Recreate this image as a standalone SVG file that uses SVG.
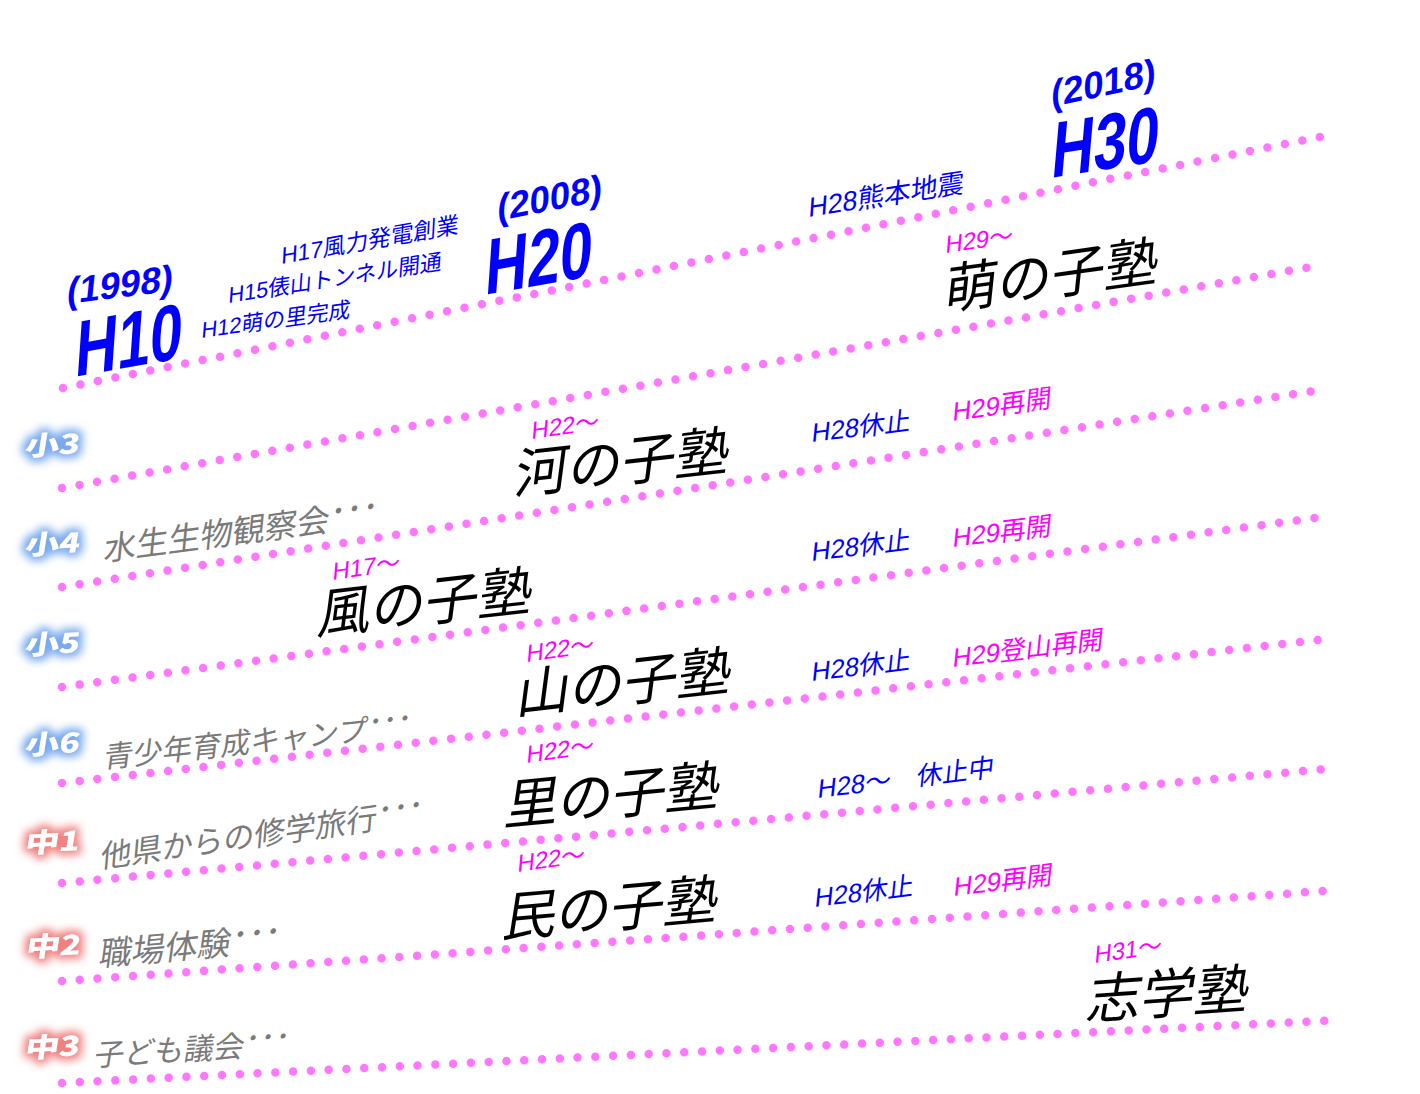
<svg xmlns="http://www.w3.org/2000/svg" width="1420" height="1094" viewBox="0 0 1420 1094">
<defs>
<style>
.dl{fill:none;stroke:#ff77ff;stroke-width:8.5;stroke-linecap:round;stroke-dasharray:0 17.8}
.t{font-family:"Liberation Sans","Noto Sans CJK JP",sans-serif}
.big{font-weight:bold;fill:#0000ff;font-size:78px}
.yr{font-weight:bold;fill:#0000ff;font-size:37px}
.bl{fill:#0000ff}
.mg{fill:#ff00ff}
.gr{fill:#7a7a7a;font-family:"Noto Sans CJK JP",sans-serif}
.jk{fill:#000000;font-family:"Noto Sans CJK JP",sans-serif;font-size:54px}
.gd{fill:#ffffff;font-family:"Noto Sans CJK JP",sans-serif;font-weight:900;font-size:28px}
</style>
<filter id="glowB" x="-60%" y="-100%" width="220%" height="300%">
<feMorphology in="SourceAlpha" operator="dilate" radius="4" result="d"/>
<feGaussianBlur in="d" stdDeviation="4.5" result="b"/>
<feFlood flood-color="#7aaaee"/>
<feComposite in2="b" operator="in" result="g"/>
<feMerge><feMergeNode in="g"/><feMergeNode in="SourceGraphic"/></feMerge>
</filter>
<filter id="glowR" x="-60%" y="-100%" width="220%" height="300%">
<feMorphology in="SourceAlpha" operator="dilate" radius="4" result="d"/>
<feGaussianBlur in="d" stdDeviation="4.5" result="b"/>
<feFlood flood-color="#f08080"/>
<feComposite in2="b" operator="in" result="g"/>
<feMerge><feMergeNode in="g"/><feMergeNode in="SourceGraphic"/></feMerge>
</filter>
</defs>
<rect width="1420" height="1094" fill="#ffffff"/>

<g id="lines">
<path class="dl" d="M63,388 L1320,137"/>
<path class="dl" d="M62,488 L1322,265"/>
<path class="dl" d="M62,587 L1327,389"/>
<path class="dl" d="M62,687 L1330,516"/>
<path class="dl" d="M62,783 L1318,640"/>
<path class="dl" d="M62,883 L1337,768"/>
<path class="dl" d="M62,981 L1338,890"/>
<path class="dl" d="M62,1083 L1340,1020"/>
</g>

<g id="era-h10">
<text class="t yr" transform="translate(66,304) rotate(-7) skewX(-13)">(1998)</text>
<text class="t big" transform="translate(74,377) rotate(-10) skewX(-14) scale(0.76,1)">H10</text>
</g>
<g id="era-h20">
<text class="t yr" transform="translate(497,221) rotate(-11) skewX(-13)">(2008)</text>
<text class="t big" transform="translate(484,295) rotate(-10) skewX(-14) scale(0.76,1)">H20</text>
</g>
<g id="era-h30">
<text class="t yr" transform="translate(1051,107) rotate(-12) skewX(-13)">(2018)</text>
<text class="t big" transform="translate(1050,178) rotate(-9) skewX(-14) scale(0.76,1)">H30</text>
</g>

<g id="events">
<text class="t bl" font-size="22" transform="translate(201,338) rotate(-8) skewX(-13)">H12萌の里完成</text>
<text class="t bl" font-size="22" transform="translate(228,303) rotate(-9) skewX(-13)">H15俵山トンネル開通</text>
<text class="t bl" font-size="23" transform="translate(281,264) rotate(-10) skewX(-13)">H17風力発電創業</text>
<text class="t bl" font-size="27" transform="translate(808,217) rotate(-9) skewX(-13)">H28熊本地震</text>
</g>

<g id="grade-s3" filter="url(#glowB)"><text class="gd" transform="translate(24,456) rotate(-3) skewX(-12) scale(1.22,0.95)">小3</text></g>
<g id="grade-s4" filter="url(#glowB)"><text class="gd" transform="translate(24,555) rotate(-3) skewX(-12) scale(1.22,0.95)">小4</text></g>
<g id="grade-s5" filter="url(#glowB)"><text class="gd" transform="translate(24,655) rotate(-3) skewX(-12) scale(1.22,0.95)">小5</text></g>
<g id="grade-s6" filter="url(#glowB)"><text class="gd" transform="translate(24,755) rotate(-3) skewX(-12) scale(1.22,0.95)">小6</text></g>
<g id="grade-m1" filter="url(#glowR)"><text class="gd" transform="translate(24,853) rotate(-3) skewX(-12) scale(1.22,0.95)">中1</text></g>
<g id="grade-m2" filter="url(#glowR)"><text class="gd" transform="translate(25,957) rotate(-3) skewX(-12) scale(1.22,0.95)">中2</text></g>
<g id="grade-m3" filter="url(#glowR)"><text class="gd" transform="translate(24,1058) rotate(-3) skewX(-12) scale(1.22,0.95)">中3</text></g>

<g id="activities">
<text class="t gr" font-size="32.5" transform="translate(103,561) rotate(-7.5) skewX(-13)">水生生物観察会<tspan dy="-7">･･･</tspan></text>
<text class="t gr" font-size="29.5" transform="translate(103,768) rotate(-6) skewX(-13)">青少年育成キャンプ<tspan dy="-7">･･･</tspan></text>
<text class="t gr" font-size="31" transform="translate(100,868) rotate(-8) skewX(-13)">他県からの修学旅行<tspan dy="-7">･･･</tspan></text>
<text class="t gr" font-size="33" transform="translate(98,966) rotate(-5) skewX(-13)">職場体験<tspan dy="-7">･･･</tspan></text>
<text class="t gr" font-size="30" transform="translate(93,1066) rotate(-3.5) skewX(-13)">子ども議会<tspan dy="-7">･･･</tspan></text>
</g>

<g id="moe">
<text class="t mg" font-size="24" transform="translate(945,253) rotate(-8) skewX(-13)">H29～</text>
<text class="t jk" transform="translate(943,310) rotate(-8) skewX(-14)">萌の子塾</text>
</g>
<g id="kawa">
<text class="t mg" font-size="24" transform="translate(531,439) rotate(-8) skewX(-13)">H22～</text>
<text class="t jk" transform="translate(513,494) rotate(-6.5) skewX(-14)">河の子塾</text>
<text class="t bl" font-size="26" transform="translate(811,442) rotate(-7) skewX(-13)">H28休止</text>
<text class="t mg" font-size="26" transform="translate(952,421) rotate(-8) skewX(-13)">H29再開</text>
</g>
<g id="kaze">
<text class="t mg" font-size="24" transform="translate(332,580) rotate(-8) skewX(-13)">H17～</text>
<text class="t jk" transform="translate(316,634) rotate(-6.5) skewX(-14)">風の子塾</text>
<text class="t bl" font-size="26" transform="translate(811,561) rotate(-7) skewX(-13)">H28休止</text>
<text class="t mg" font-size="26" transform="translate(952,547) rotate(-7) skewX(-13)">H29再開</text>
</g>
<g id="yama">
<text class="t mg" font-size="24" transform="translate(526,662) rotate(-8) skewX(-13)">H22～</text>
<text class="t jk" transform="translate(515,714) rotate(-6.5) skewX(-14)">山の子塾</text>
<text class="t bl" font-size="26" transform="translate(811,681) rotate(-7) skewX(-13)">H28休止</text>
<text class="t mg" font-size="26" transform="translate(952,667) rotate(-7) skewX(-13)">H29登山再開</text>
</g>
<g id="sato">
<text class="t mg" font-size="24" transform="translate(526,763) rotate(-8) skewX(-13)">H22～</text>
<text class="t jk" transform="translate(503,825) rotate(-5.5) skewX(-14)">里の子塾</text>
<text class="t bl" font-size="26" transform="translate(817,798) rotate(-7) skewX(-13)">H28～　休止中</text>
</g>
<g id="tami">
<text class="t mg" font-size="24" transform="translate(517,872) rotate(-8) skewX(-13)">H22～</text>
<text class="t jk" transform="translate(501,937) rotate(-5) skewX(-14)">民の子塾</text>
<text class="t bl" font-size="26" transform="translate(814,907) rotate(-7) skewX(-13)">H28休止</text>
<text class="t mg" font-size="26" transform="translate(953,896) rotate(-7) skewX(-13)">H29再開</text>
</g>
<g id="shigaku">
<text class="t mg" font-size="24" transform="translate(1094,963) rotate(-8) skewX(-13)">H31～</text>
<text class="t jk" font-size="58" transform="translate(1085,1019) rotate(-4) skewX(-14)">志学塾</text>
</g>
</svg>
